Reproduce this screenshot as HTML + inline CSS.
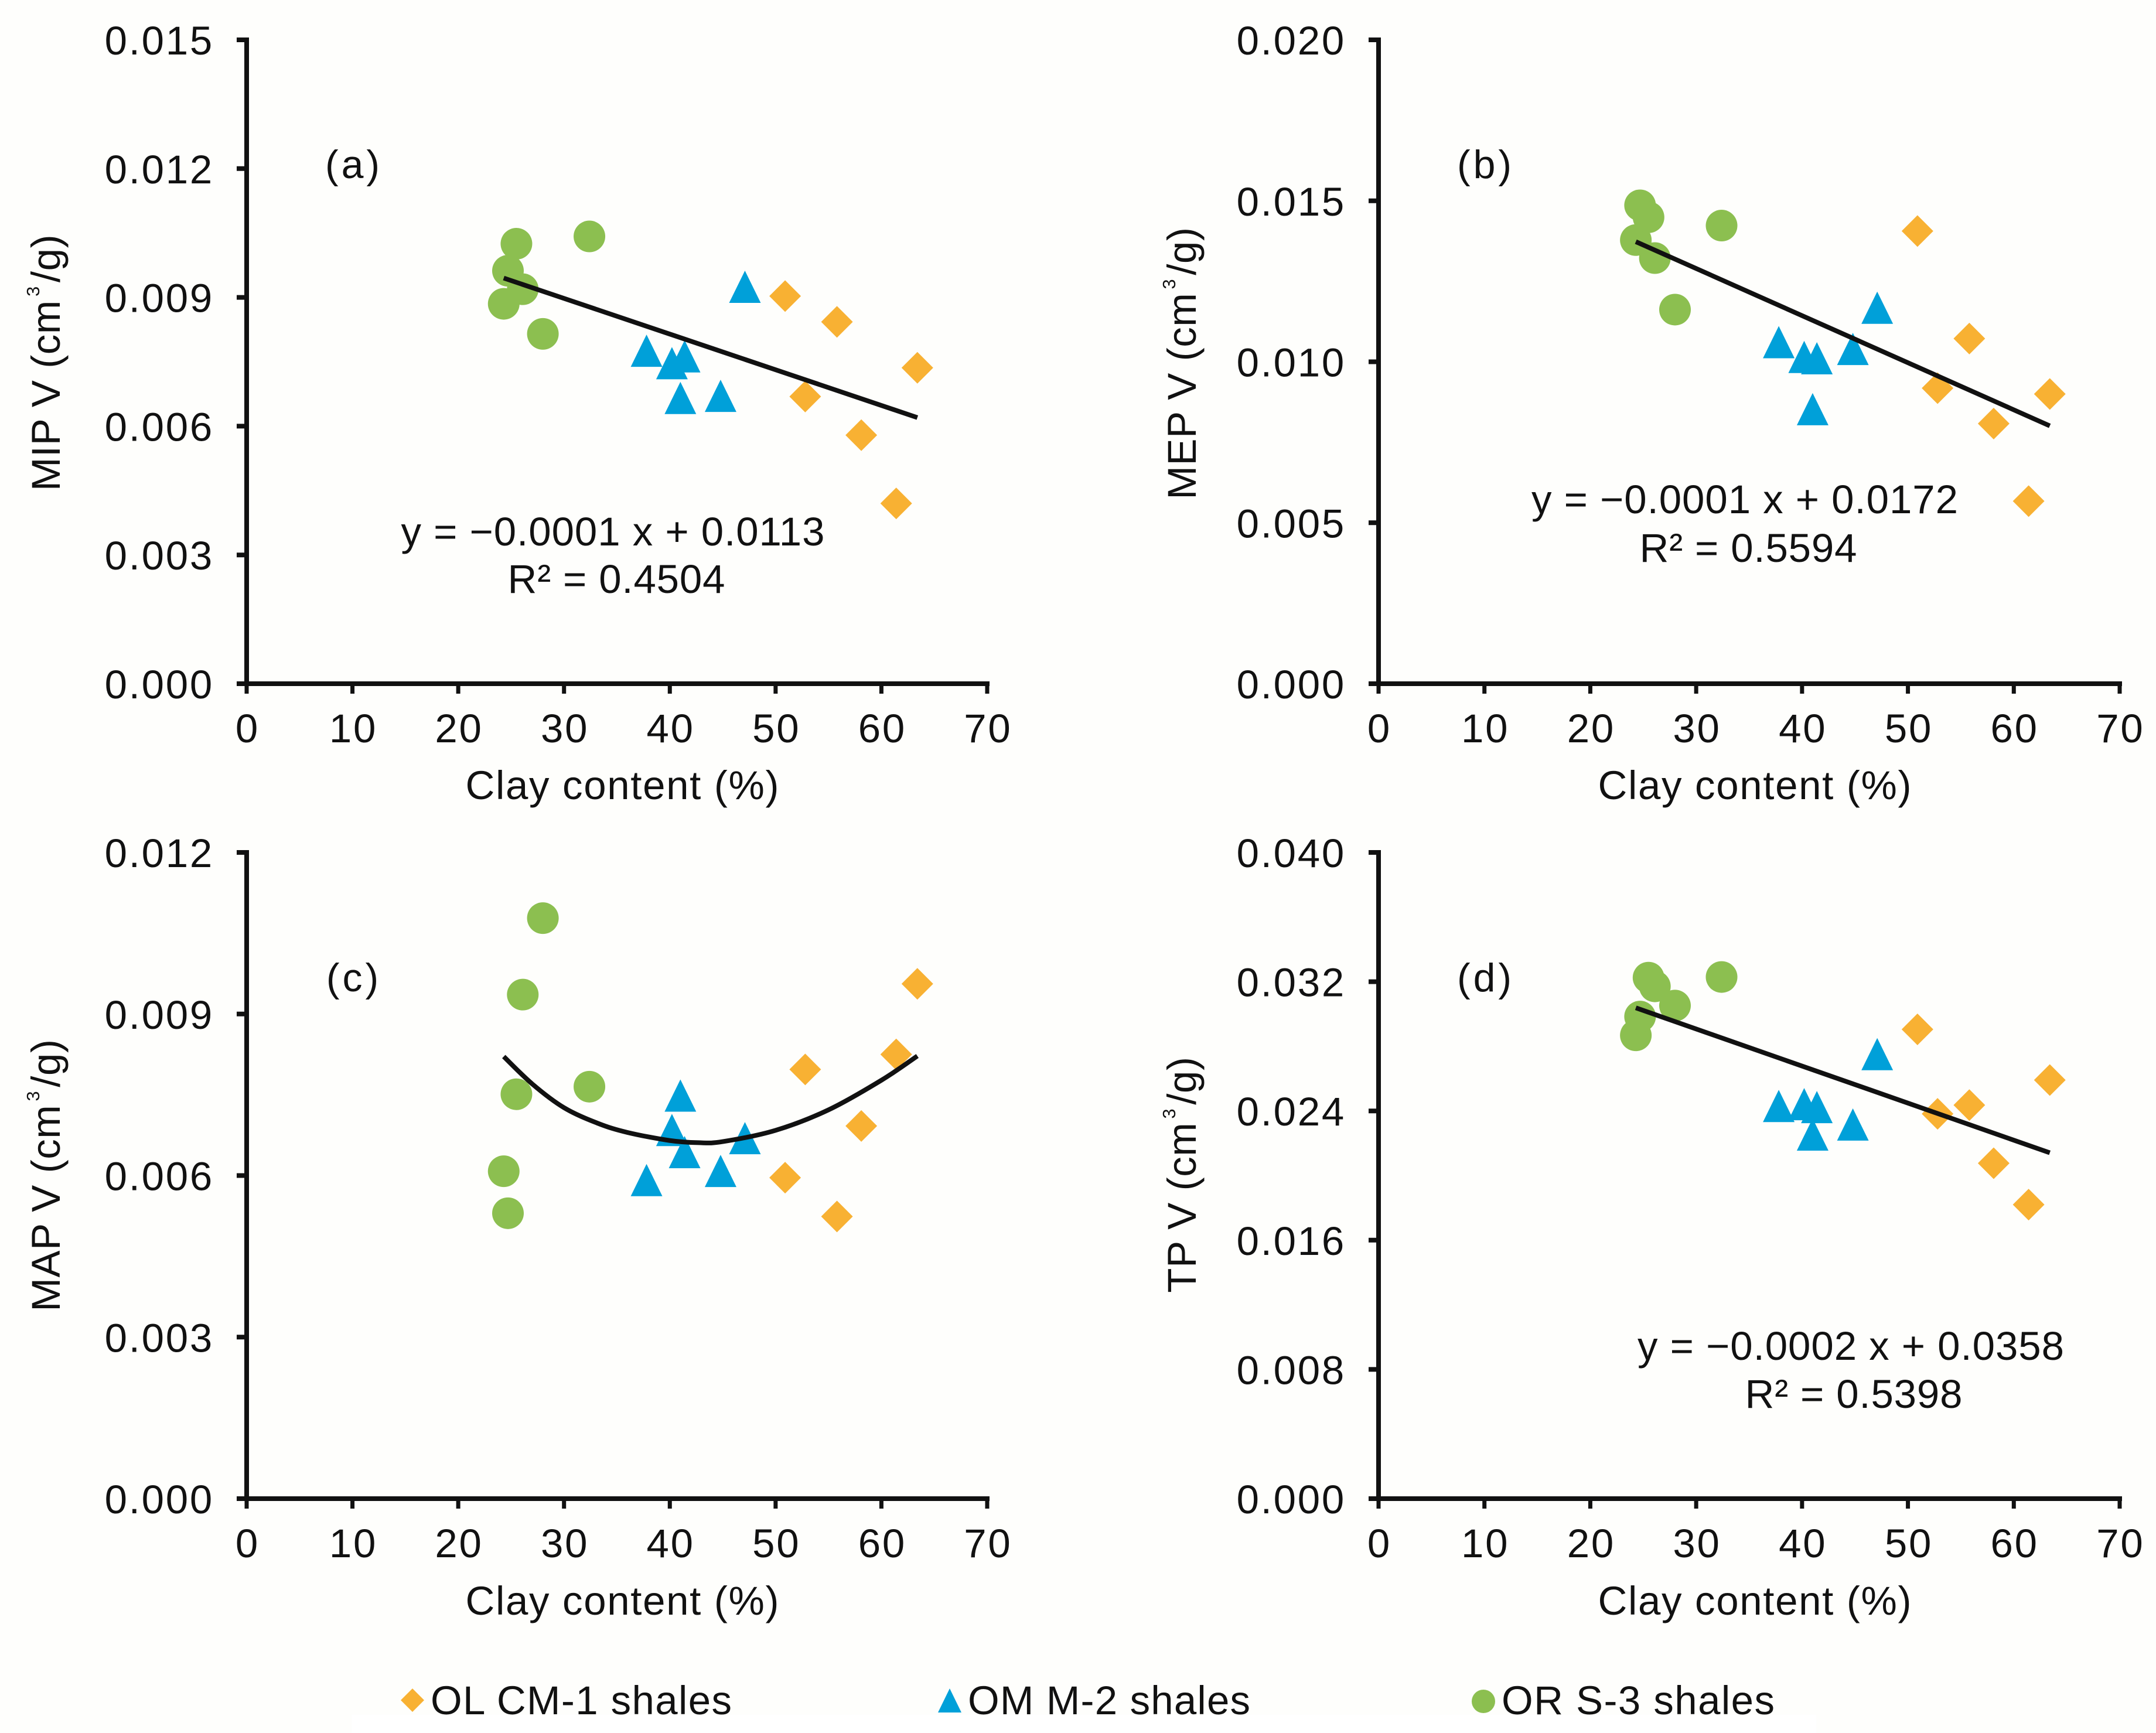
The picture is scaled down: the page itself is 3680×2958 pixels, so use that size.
<!DOCTYPE html>
<html lang="en">
<head>
<meta charset="utf-8">
<title>Pore volume versus clay content</title>
<style>
html,body{margin:0;padding:0;background:#fefefc;}
svg{display:block;}
text{font-family:"Liberation Sans",sans-serif;font-size:69px;fill:#111;}
.tick-label{letter-spacing:2.75px;}
.panel-label{font-size:68px;letter-spacing:5px;}
.y-title{letter-spacing:0.6px;}
</style>
</head>
<body>
<svg id="figure" xmlns="http://www.w3.org/2000/svg" width="3680" height="2958" viewBox="0 0 3680 2958">
  <rect x="0" y="0" width="3680" height="2958" fill="#fefefc"/>

  <g id="panel-a">
    <text class="y-title" transform="translate(102,619) rotate(-90)" text-anchor="middle">MIP V (cm<tspan dx="6" dy="-35" style="font-size:31px">3</tspan><tspan dx="6" dy="35">/g)</tspan></text>
    <text x="1062" y="1364" text-anchor="middle" textLength="535">Clay content (%)</text>
    <text class="panel-label" x="604" y="304" text-anchor="middle">(a)</text>
    <text x="1046" y="931" text-anchor="middle" textLength="723">y = −0.0001 x + 0.0113</text>
    <text x="1052" y="1012" text-anchor="middle" textLength="371">R² = 0.4504</text>
  </g>

  <g id="panel-b">
    <text class="y-title" transform="translate(2041,620) rotate(-90)" text-anchor="middle">MEP V (cm<tspan dx="6" dy="-35" style="font-size:31px">3</tspan><tspan dx="6" dy="35">/g)</tspan></text>
    <text x="2995" y="1364" text-anchor="middle" textLength="535">Clay content (%)</text>
    <text class="panel-label" x="2536" y="304" text-anchor="middle">(b)</text>
    <text x="2978" y="876" text-anchor="middle" textLength="728">y = −0.0001 x + 0.0172</text>
    <text x="2984" y="959" text-anchor="middle" textLength="371">R² = 0.5594</text>
  </g>

  <g id="panel-c">
    <text class="y-title" transform="translate(102,2006) rotate(-90)" text-anchor="middle">MAP V (cm<tspan dx="6" dy="-35" style="font-size:31px">3</tspan><tspan dx="6" dy="35">/g)</tspan></text>
    <text x="1062" y="2756" text-anchor="middle" textLength="535">Clay content (%)</text>
    <text class="panel-label" x="604" y="1692" text-anchor="middle">(c)</text>
  </g>

  <g id="panel-d">
    <text class="y-title" transform="translate(2041,2005) rotate(-90)" text-anchor="middle">TP V (cm<tspan dx="6" dy="-35" style="font-size:31px">3</tspan><tspan dx="6" dy="35">/g)</tspan></text>
    <text x="2995" y="2756" text-anchor="middle" textLength="535">Clay content (%)</text>
    <text class="panel-label" x="2536" y="1692" text-anchor="middle">(d)</text>
    <text x="3159" y="2321" text-anchor="middle" textLength="728">y = −0.0002 x + 0.0358</text>
    <text x="3164" y="2403" text-anchor="middle" textLength="371">R² = 0.5398</text>
  </g>

  <g id="legend">
    <g>
      <polygon points="704,2882 724,2902 704,2922 684,2902" fill="#f8b133"/>
      <text x="735" y="2926" textLength="514">OL CM-1 shales</text>
    </g>
    <g>
      <polygon points="1621,2882 1641,2923 1601,2923" fill="#00a0d9"/>
      <text x="1652" y="2926" textLength="482">OM M-2 shales</text>
    </g>
    <g>
      <circle cx="2532" cy="2904" r="20" fill="#8cbf50"/>
      <text x="2563" y="2926" textLength="466">OR S-3 shales</text>
    </g>
    <rect x="600" y="2927" width="2500" height="31" fill="#ffffff"/>
  </g>
</svg>

<script>
// ---- Shared x values (clay content, %) ----
const clayOL = [50.9, 52.8, 55.8, 58.1, 61.4, 63.4];
const clayOM = [37.8, 40.2, 41.4, 41.0, 44.8, 47.1];
const clayOR = [24.3, 24.7, 25.5, 26.1, 28.0, 32.4];
const xTickLabels = ['0', '10', '20', '30', '40', '50', '60', '70'];

// ---- Panel (a) MIP V ----
const mipTicks = ['0.000', '0.003', '0.006', '0.009', '0.012', '0.015'];
const mipOL = [0.00903, 0.00669, 0.00843, 0.00579, 0.00420, 0.00736];
const mipOM = [0.00775, 0.00746, 0.00762, 0.00665, 0.00670, 0.00924];
const mipOR = [0.00885, 0.00962, 0.01025, 0.00919, 0.00815, 0.01042];
const mipFitX = [24.3, 63.4];
const mipFitY = [0.00945, 0.00620];

// ---- Panel (b) MEP V ----
const mepTicks = ['0.000', '0.005', '0.010', '0.015', '0.020'];
const mepOL = [0.01406, 0.00918, 0.01072, 0.00808, 0.00567, 0.00900];
const mepOM = [0.01060, 0.01014, 0.01010, 0.00852, 0.01039, 0.01167];
const mepOR = [0.01378, 0.01486, 0.01449, 0.01322, 0.01162, 0.01423];
const mepFitX = [24.3, 63.4];
const mepFitY = [0.01373, 0.00801];

// ---- Panel (c) MAP V ----
const mapTicks = ['0.000', '0.003', '0.006', '0.009', '0.012'];
const mapOL = [0.00596, 0.00797, 0.00524, 0.00692, 0.00825, 0.00956];
const mapOM = [0.00591, 0.00684, 0.00643, 0.00748, 0.00608, 0.00669];
const mapOR = [0.00608, 0.00530, 0.00751, 0.00936, 0.01078, 0.00765];
const mapFitX = [24.3, 27, 30, 33.2, 36, 40, 42.7, 45, 50, 55, 60, 63.4];
const mapFitY = [0.00821, 0.00770, 0.00726, 0.00697, 0.00680, 0.00665, 0.00661, 0.00663, 0.00684, 0.00722, 0.00777, 0.00822];

// ---- Panel (d) TP V ----
const tpTicks = ['0.000', '0.008', '0.016', '0.024', '0.032', '0.040'];
const tpOL = [0.02905, 0.02382, 0.02436, 0.02076, 0.01820, 0.02591];
const tpOM = [0.02429, 0.02440, 0.02422, 0.02252, 0.02314, 0.02750];
const tpOR = [0.02868, 0.02984, 0.03225, 0.03171, 0.03052, 0.03229];
const tpFitX = [24.3, 63.4];
const tpFitY = [0.03038, 0.02141];

const SVGNS = 'http://www.w3.org/2000/svg';
const INK = '#111111';

function makeX(left, right) {
  const lo = Number(xTickLabels[0]);
  const hi = Number(xTickLabels[xTickLabels.length - 1]);
  return function (v) { return left + (v - lo) / (hi - lo) * (right - left); };
}
function makeY(bottom, top, ticks) {
  const lo = Number(ticks[0]);
  const hi = Number(ticks[ticks.length - 1]);
  return function (v) { return bottom - (v - lo) / (hi - lo) * (bottom - top); };
}
function create(tag, parent) {
  const el = document.createElementNS(SVGNS, tag);
  parent.appendChild(el);
  return el;
}
function drawRule(parent, x1, y1, x2, y2, w) {
  const el = create('line', parent);
  el.setAttribute('x1', x1);
  el.setAttribute('y1', y1);
  el.setAttribute('x2', x2);
  el.setAttribute('y2', y2);
  el.setAttribute('stroke', INK);
  el.setAttribute('stroke-width', w);
  return el;
}
function drawLabel(parent, x, y, anchor, str) {
  const el = create('text', parent);
  el.setAttribute('class', 'tick-label');
  el.setAttribute('x', x);
  el.setAttribute('y', y);
  el.setAttribute('text-anchor', anchor);
  el.textContent = str;
  return el;
}
// Smooth curve through the pixel points of a fit series (Catmull-Rom to cubic Bezier).
function fitPath(pts) {
  let d = 'M' + pts[0][0] + ' ' + pts[0][1];
  for (let i = 0; i < pts.length - 1; i++) {
    const p0 = pts[Math.max(i - 1, 0)];
    const p1 = pts[i];
    const p2 = pts[i + 1];
    const p3 = pts[Math.min(i + 2, pts.length - 1)];
    d += ' C' + (p1[0] + (p2[0] - p0[0]) / 6) + ' ' + (p1[1] + (p2[1] - p0[1]) / 6) +
         ' ' + (p2[0] - (p3[0] - p1[0]) / 6) + ' ' + (p2[1] - (p3[1] - p1[1]) / 6) +
         ' ' + p2[0] + ' ' + p2[1];
  }
  return d;
}

function drawPanel(id, box, ticks, ol, om, or, fitX, fitY) {
  const g = document.getElementById('panel-' + id);
  const sx = makeX(box.left, box.right);
  const sy = makeY(box.bottom, box.top, ticks);

  // axes
  const yAxis = drawRule(g, box.left, box.top - 4, box.left, box.bottom + 4, 8);
  
  
  const xAxis = drawRule(g, box.left - 4, box.bottom, box.right + 4, box.bottom, 8);
  
  

  // y ticks
  ticks.forEach(function (t) {
    const py = sy(Number(t));
    const tick = drawRule(g, box.left - 17, py, box.left, py, 8);
    
    
    const lab = drawLabel(g, box.left - 56, py + 25, 'end', t);
    
    
  });

  // x ticks
  xTickLabels.forEach(function (t) {
    const px = sx(Number(t));
    const tick = drawRule(g, px, box.bottom, px, box.bottom + 17, 7);
    
    
    const lab = drawLabel(g, px + 1.4, box.bottom + 100, 'middle', t);
    
    
  });

  // OL CM-1 diamonds
  clayOL.forEach(function (c, i) {
    const px = sx(c), py = sy(ol[i]), r = 27;
    const m = create('polygon', g);
    
    
    m.setAttribute('points', [px, py - r, px + r, py, px, py + r, px - r, py].join(' '));
    m.setAttribute('fill', '#f8b133');
  });
  // OM M-2 triangles
  clayOM.forEach(function (c, i) {
    const px = sx(c), py = sy(om[i]), r = 27;
    const m = create('polygon', g);
    
    
    m.setAttribute('points', [px, py - r - 1, px + r, py + r, px - r, py + r].join(' '));
    m.setAttribute('fill', '#00a0d9');
  });
  // OR S-3 circles
  clayOR.forEach(function (c, i) {
    const m = create('circle', g);
    
    
    m.setAttribute('cx', sx(c));
    m.setAttribute('cy', sy(or[i]));
    m.setAttribute('r', 27);
    m.setAttribute('fill', '#8cbf50');
  });

  // fit line
  const fit = create('path', g);
  
  
  fit.setAttribute('d', fitPath(fitX.map(function (x, i) { return [sx(x), sy(fitY[i])]; })));
  fit.setAttribute('fill', 'none');
  fit.setAttribute('stroke', INK);
  fit.setAttribute('stroke-width', 8);
}

const topRowY = { top: 68, bottom: 1167 };
const lowRowY = { top: 1455, bottom: 2558 };
const leftColX = { left: 421, right: 1685 };
const rightColX = { left: 2353, right: 3618 };

drawPanel('a', Object.assign({}, leftColX, topRowY), mipTicks, mipOL, mipOM, mipOR, mipFitX, mipFitY);
drawPanel('b', Object.assign({}, rightColX, topRowY), mepTicks, mepOL, mepOM, mepOR, mepFitX, mepFitY);
drawPanel('c', Object.assign({}, leftColX, lowRowY), mapTicks, mapOL, mapOM, mapOR, mapFitX, mapFitY);
drawPanel('d', Object.assign({}, rightColX, lowRowY), tpTicks, tpOL, tpOM, tpOR, tpFitX, tpFitY);
</script>
</body>
</html>
